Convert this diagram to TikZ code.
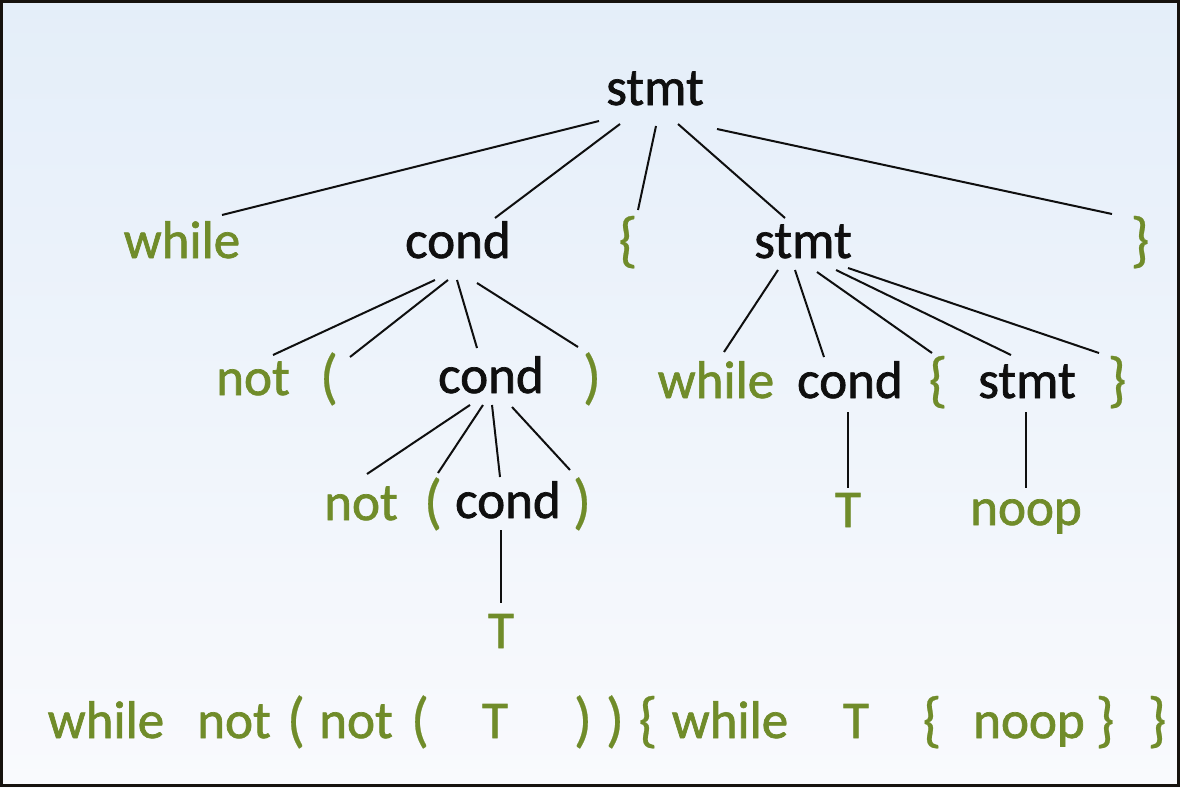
\documentclass[tikz,border=0pt]{standalone}
\usepackage{fontspec}
\setmainfont{Carlito}[FakeBold=1.3]
\newfontfamily\brfont{Carlito}[FakeBold=0.4]
\definecolor{tgreen}{RGB}{112,140,42}
\definecolor{tblack}{RGB}{15,15,15}
\definecolor{bgtop}{RGB}{228,238,249}
\definecolor{bgbot}{RGB}{249,250,253}
\definecolor{framec}{RGB}{22,18,14}
\begin{document}
\begin{tikzpicture}[x=1pt,y=-1pt,
  nt/.style={font=\fontsize{53}{56}\selectfont, text=tblack, anchor=base, inner sep=0pt, text height=0pt, text depth=0pt},
  tm/.style={nt, text=tgreen},
  br/.style={tm, font=\brfont\fontsize{61}{64}\selectfont},
  edge/.style={draw=tblack, line width=2pt}]
\useasboundingbox (0,0) rectangle (1180,787);
\shade[top color=bgtop, bottom color=bgbot] (0,0) rectangle (1180,787);
\draw[framec, line width=3pt] (1.5,1.5) rectangle (1178.5,785.5);
% row 0
\node[nt] (s0) at (655,105) {stmt};
% row 1
\node[tm] (w1) at (182,258) {while};
\node[nt] (c1) at (458,258) {cond};
\node[br] (ob1) at (628,260) {\{};
\node[nt] (s1) at (803,258) {stmt};
\node[br] (cb1) at (1140,260) {\}};
% row 2
\node[tm] (n2) at (253,395) {not};
\node[br] (op2) at (329,397) {(};
\node[nt] (c2) at (491,393) {cond};
\node[br] (cp2) at (592,397) {)};
\node[tm] (w2) at (716,398) {while};
\node[nt] (c2r) at (850,398) {cond};
\node[br] (ob2) at (938,400) {\{};
\node[nt] (s2) at (1027,398) {stmt};
\node[br] (cb2) at (1117,400) {\}};
% row 3
\node[tm] (n3) at (361,520) {not};
\node[br] (op3) at (433,522) {(};
\node[nt] (c3) at (508,518) {cond};
\node[br] (cp3) at (582,522) {)};
\node[tm] (t3) at (848,527) {T};
\node[tm] (np3) at (1026,525) {noop};
% row 4
\node[tm] (t4) at (501,648) {T};
% bottom sentence
\node[tm] (bw1) at (106,738) {while};
\node[tm] (bn1) at (234,738) {not};
\node[br] (bo1) at (296,740) {(};
\node[tm] (bn2) at (356,738) {not};
\node[br] (bo2) at (420,740) {(};
\node[tm] (bt1) at (495,738) {T};
\node[br] (bc1) at (583,740) {)};
\node[br] (bc2) at (615,740) {)};
\node[br] (bb1) at (648,740) {\{};
\node[tm] (bw2) at (730,738) {while};
\node[tm] (bt2) at (856,738) {T};
\node[br] (bb2) at (932,740) {\{};
\node[tm] (bnp) at (1029,738) {noop};
\node[br] (be1) at (1105,740) {\}};
\node[br] (be2) at (1157,740) {\}};
% edges from top stmt
\draw[edge] ([shift={(-56,16)}]s0.base) -- ([shift={(40,-43)}]w1.base);
\draw[edge] ([shift={(-35,19)}]s0.base) -- ([shift={(37,-40)}]c1.base);
\draw[edge] ([shift={(1,21)}]s0.base) -- ([shift={(10,-50)}]ob1.base);
\draw[edge] ([shift={(23,19)}]s0.base) -- ([shift={(-18,-40)}]s1.base);
\draw[edge] ([shift={(62,24)}]s0.base) -- ([shift={(-28,-46)}]cb1.base);
% edges from cond (row 1)
\draw[edge] ([shift={(-23,22)}]c1.base) -- ([shift={(20,-40)}]n2.base);
\draw[edge] ([shift={(-10,22)}]c1.base) -- ([shift={(21,-40)}]op2.base);
\draw[edge] ([shift={(-1,22)}]c1.base) -- ([shift={(-14,-45)}]c2.base);
\draw[edge] ([shift={(19,25)}]c1.base) -- ([shift={(-14,-50)}]cp2.base);
% edges from stmt (row 1)
\draw[edge] ([shift={(-25,12)}]s1.base) -- ([shift={(8,-46)}]w2.base);
\draw[edge] ([shift={(-8,12)}]s1.base) -- ([shift={(-26,-41)}]c2r.base);
\draw[edge] ([shift={(14,14)}]s1.base) -- ([shift={(-6,-47)}]ob2.base);
\draw[edge] ([shift={(33,12)}]s1.base) -- ([shift={(-16,-43)}]s2.base);
\draw[edge] ([shift={(45,10)}]s1.base) -- ([shift={(-18,-47)}]cb2.base);
% edges from cond (row 2)
\draw[edge] ([shift={(-21,12)}]c2.base) -- ([shift={(6,-46)}]n3.base);
\draw[edge] ([shift={(-8,12)}]c2.base) -- ([shift={(5,-49)}]op3.base);
\draw[edge] ([shift={(1,12)}]c2.base) -- ([shift={(-8,-41)}]c3.base);
\draw[edge] ([shift={(21,14)}]c2.base) -- ([shift={(-12,-52)}]cp3.base);
% leaves
\draw[edge] ([shift={(-7,12)}]c3.base) -- ([shift={(0,-45)}]t4.base);
\draw[edge] ([shift={(-2,14)}]c2r.base) -- ([shift={(0,-39)}]t3.base);
\draw[edge] ([shift={(-1,14)}]s2.base) -- ([shift={(0,-37)}]np3.base);
\end{tikzpicture}
\end{document}
